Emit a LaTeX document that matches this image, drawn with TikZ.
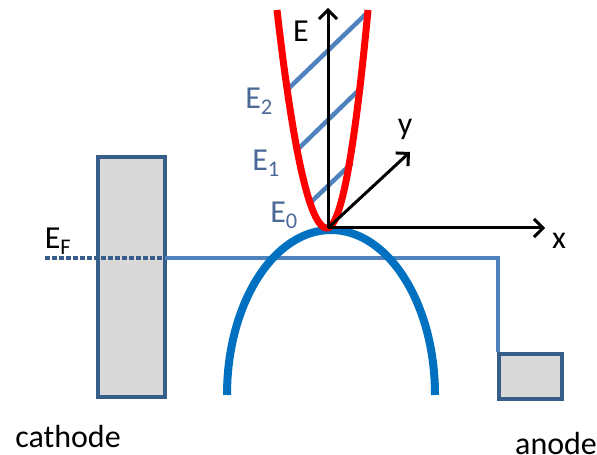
\documentclass[tikz,border=0pt]{standalone}
\usepackage{fontspec}
\setmainfont{Carlito}
\usetikzlibrary{arrows.meta}
\definecolor{hatchblue}{RGB}{79,129,189}
\definecolor{rimblue}{RGB}{56,93,138}
\definecolor{boxgray}{RGB}{217,217,217}
\definecolor{bellblue}{RGB}{0,112,192}
\definecolor{labblue}{RGB}{75,105,150}
\tikzset{
  axisline/.style={draw=black,line width=3pt,-{Straight Barb[length=9pt,width=18pt,line width=3pt]}},
  electrode/.style={draw=rimblue,fill=boxgray,line width=3.8pt},
  fermiline/.style={draw=hatchblue,line width=4pt},
  hatchline/.style={draw=hatchblue,line width=4.5pt},
  lbl/.style={font=\fontsize{32}{34}\selectfont,inner sep=0pt},
  elbl/.style={lbl,text=labblue},
}
\begin{document}
\begin{tikzpicture}[x=1pt,y=1pt]
\useasboundingbox (0,0) rectangle (597,455);
% named points
\coordinate (O) at (328,227);
\coordinate (Etip) at (328,447);
\coordinate (xtip) at (545,227);
\coordinate (ytip) at (410,303);
\coordinate (fdash) at (45,197);
\coordinate (fstart) at (165,197);
\coordinate (fcorner) at (498,197);
% electrodes
\node[electrode,minimum width=67pt,minimum height=240pt,inner sep=0pt] (cathode) at (131.5,178) {};
\node[electrode,minimum width=63pt,minimum height=45pt,inner sep=0pt] (anode) at (530.5,78.5) {};
% Fermi level
\draw[draw=rimblue,line width=4pt,dash pattern=on 5pt off 2pt] (fdash) -- (fstart);
\draw[fermiline] (fstart) -- (fcorner) -- (anode.north -| fcorner);
% hatch lines
\coordinate (h1a) at (287,365); \coordinate (h1b) at (367,442);
\coordinate (h2a) at (295,303); \coordinate (h2b) at (362,368);
\coordinate (h3a) at (310,252); \coordinate (h3b) at (352,292);
\draw[hatchline] (h1a) -- (h1b);
\draw[hatchline] (h2a) -- (h2b);
\draw[hatchline] (h3a) -- (h3b);
% bell curve
\draw[bellblue,line width=8pt] (227,60) arc[start angle=180,end angle=0,x radius=104,y radius=165];
% red parabola
\draw[red,line width=7pt,line join=round] plot[domain=277:327,samples=60,smooth] (\x,{227+218*((\x-327)/50)^2})
  -- plot[domain=327:368,samples=50,smooth] (\x,{227+218*((\x-327)/41)^2});
% axes
\draw[axisline] (O) -- (Etip);
\draw[axisline] (O) -- (xtip);
\draw[axisline] (O) -- (ytip);
% labels
\node[lbl] (Elab) at (301,424) {E};
\node[lbl] (xlab) at (559,214) {x};
\node[lbl] (ylab) at (405,326) {y};
\node[elbl] (E2) at (259,354) {E\textsubscript{2}};
\node[elbl] (E1) at (266,292) {E\textsubscript{1}};
\node[elbl] (E0) at (284,240) {E\textsubscript{0}};
\node[lbl] (EF) at (58,214) {E\textsubscript{F}};
\node[lbl] (cathlab) at (68,18) {cathode};
\node[lbl,anchor=west] (anlab) at (515,11) {anode};
\end{tikzpicture}
\end{document}
